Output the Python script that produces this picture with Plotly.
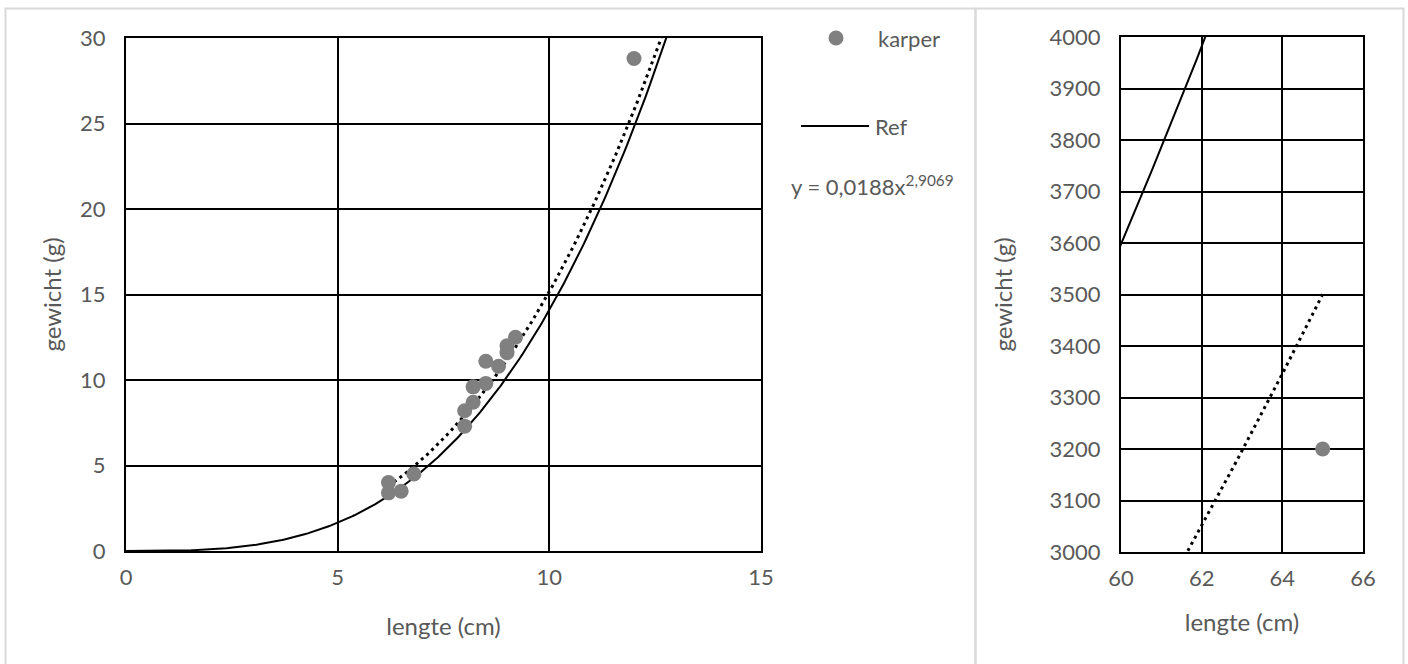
import numpy as np
import plotly.graph_objects as go

# ---- data ----
karper_lengte = [6.2, 6.2, 6.5, 6.8, 8.0, 8.0, 8.2, 8.2, 8.5, 8.5, 8.8, 9.0, 9.0, 9.2, 12.0, 65.0]
karper_gewicht = [4.0, 3.4, 3.5, 4.5, 7.3, 8.2, 8.7, 9.6, 9.8, 11.1, 10.8, 12.0, 11.6, 12.5, 28.8, 3200.0]

# power trendline shown in the chart: y = 0,0188 x^2,9069
trend_a = 0.0188
trend_b = 2.9069
# reference weight-length relation (solid "Ref" line)
ref_a = 0.01138
ref_b = 3.093
ref_range = [0.0, 66.0]

left_xticks = [0, 5, 10, 15]
left_yticks = [0, 5, 10, 15, 20, 25, 30]
right_xticks = [60, 62, 64, 66]
right_yticks = [3000, 3100, 3200, 3300, 3400, 3500, 3600, 3700, 3800, 3900, 4000]

W, H = 1408, 664
FONT = "Lato"
GRAY = "#595959"
MARK = "#808080"
TICK_SIZE = 22
TITLE_SIZE = 24
LEG_SIZE = 22

ref_x = np.linspace(ref_range[0], ref_range[1], 1200)
ref_y = ref_a * ref_x ** ref_b
tr_x = np.linspace(min(karper_lengte), max(karper_lengte), 1200)
tr_y = trend_a * tr_x ** trend_b

fig = go.Figure()
for xa, ya in [("x", "y"), ("x2", "y2")]:
    fig.add_trace(go.Scatter(x=ref_x, y=ref_y, mode="lines", xaxis=xa, yaxis=ya,
                             line=dict(color="black", width=2), showlegend=False, hoverinfo="skip"))
    fig.add_trace(go.Scatter(x=tr_x, y=tr_y, mode="lines", xaxis=xa, yaxis=ya,
                             line=dict(color="black", width=3, dash="3px,4px"), showlegend=False, hoverinfo="skip"))
    fig.add_trace(go.Scatter(x=karper_lengte, y=karper_gewicht, mode="markers", xaxis=xa, yaxis=ya,
                             marker=dict(color=MARK, size=15), showlegend=False, cliponaxis=True))

def px(x):
    return x / W

def py(y):
    return 1 - y / H

axis_common = dict(showline=True, linecolor="black", linewidth=2, mirror=True,
                   showgrid=True, gridcolor="black", gridwidth=2, zeroline=False,
                   ticks="", automargin=False,
                   tickfont=dict(family=FONT, size=TICK_SIZE, color=GRAY),
                   title_font=dict(family=FONT, size=TITLE_SIZE, color=GRAY))

fig.update_layout(
    width=W, height=H, margin=dict(l=0, r=0, t=0, b=0),
    paper_bgcolor="white", plot_bgcolor="white", showlegend=False,
    xaxis=dict(domain=[px(126), px(761)], range=[0, 15], tickvals=left_xticks,
               anchor="y", title_text="lengte (cm)", title_standoff=29,
               ticklabelstandoff=6, **axis_common),
    yaxis=dict(domain=[py(551), py(38)], range=[0, 30], tickvals=left_yticks,
               anchor="x", title_text="gewicht (g)", title_standoff=12,
               ticklabelstandoff=14, **axis_common),
    xaxis2=dict(domain=[px(1121), px(1363)], range=[60, 66], tickvals=right_xticks,
                anchor="y2", title_text="lengte (cm)", title_standoff=24,
                ticklabelstandoff=6, **axis_common),
    yaxis2=dict(domain=[py(552), py(37)], range=[3000, 4000], tickvals=right_yticks,
                anchor="x2", title_text="gewicht (g)", title_standoff=30,
                ticklabelstandoff=14, **axis_common),
)

# chart-area borders (two Excel chart objects)
border = dict(color="#d9d9d9", width=2)
fig.add_shape(type="rect", xref="paper", yref="paper", x0=px(5.5), x1=px(975.5),
              y0=py(700), y1=py(8.5), line=border, layer="below")
fig.add_shape(type="rect", xref="paper", yref="paper", x0=px(975.5), x1=px(1403.5),
              y0=py(700), y1=py(8.5), line=border, layer="below")

# legend (karper / Ref) and trendline label
fig.add_shape(type="circle", xref="paper", yref="paper", x0=px(828.5), x1=px(843.5),
              y0=py(45.5), y1=py(30.5), fillcolor=MARK, line=dict(width=0))
fig.add_annotation(xref="paper", yref="paper", x=px(876), y=py(38), text="karper",
                   showarrow=False, xanchor="left", yanchor="middle",
                   font=dict(family=FONT, size=LEG_SIZE, color=GRAY))
fig.add_shape(type="line", xref="paper", yref="paper", x0=px(801), x1=px(869),
              y0=py(126), y1=py(126), line=dict(color="black", width=2))
fig.add_annotation(xref="paper", yref="paper", x=px(873), y=py(126), text="Ref",
                   showarrow=False, xanchor="left", yanchor="middle",
                   font=dict(family=FONT, size=LEG_SIZE, color=GRAY))
fig.add_annotation(xref="paper", yref="paper", x=px(789), y=py(186),
                   text="y = 0,0188x<sup>2,9069</sup>",
                   showarrow=False, xanchor="left", yanchor="middle",
                   font=dict(family=FONT, size=LEG_SIZE, color=GRAY))

fig.write_html("out.html", config={"displayModeBar": False},
               post_script="document.body.style.margin='0';")
